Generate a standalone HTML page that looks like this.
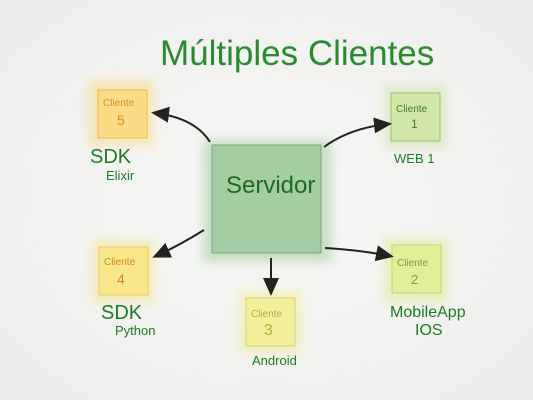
<!DOCTYPE html>
<html><head><meta charset="utf-8"><style>
html,body{margin:0;padding:0;}
body{width:533px;height:400px;background:radial-gradient(ellipse at center,#f7f7f5 0%,#ededeb 100%);position:relative;overflow:hidden;font-family:"Liberation Sans",sans-serif;}
.t{position:absolute;color:#2a7a2a;white-space:nowrap;}
</style></head><body>
<svg width="533" height="400" style="position:absolute;left:0;top:0">
<defs>
<filter id="b" x="-30%" y="-30%" width="160%" height="160%"><feGaussianBlur stdDeviation="5"/></filter>
<marker id="a" markerWidth="10" markerHeight="10" refX="7" refY="5" orient="auto"><path d="M0,1 L9,5 L0,9 Z" fill="#222"/></marker>
</defs>
<rect x="203" y="140" width="128" height="122" fill="#a8cfa4" opacity="0.6" filter="url(#b)"/>
<rect x="88" y="80" width="66" height="66" fill="#f8dc88" opacity="0.55" filter="url(#b)"/>
<rect x="384" y="86" width="62" height="62" fill="#d0e4a8" opacity="0.55" filter="url(#b)"/>
<rect x="92" y="240" width="62" height="62" fill="#f6e68a" opacity="0.55" filter="url(#b)"/>
<rect x="239" y="291" width="62" height="62" fill="#f2ee9a" opacity="0.55" filter="url(#b)"/>
<rect x="384" y="238" width="64" height="64" fill="#e0ec92" opacity="0.55" filter="url(#b)"/>
<rect x="212" y="145" width="109" height="108" fill="#a6cca3" stroke="#7aa87a" stroke-width="1"/>
<rect x="98" y="90" width="49" height="48" fill="#fadb86" stroke="#e8bc50"/>
<rect x="391" y="93" width="49" height="48" fill="#d2e8a8" stroke="#98c070"/>
<rect x="99" y="247" width="49" height="48" fill="#f8e68a" stroke="#e6cc60"/>
<rect x="246" y="298" width="49" height="48" fill="#f4ef9c" stroke="#d8d070"/>
<rect x="392" y="245" width="49" height="48" fill="#e2ee98" stroke="#c0d470"/>
<g fill="none" stroke="#222" stroke-width="2" marker-end="url(#a)">
<path d="M210,142 Q195,118 155,113"/>
<path d="M324,147 Q350,128 388,124"/>
<path d="M204,230 Q180,245 156,256"/>
<path d="M271,258 L271,292"/>
<path d="M325,248 Q360,250 390,256"/>
</g>
</svg>
<div class="t" style="left:160px;top:34px;font-size:35px;color:#2a8a30;font-weight:300">Múltiples Clientes</div>
<div class="t" style="left:226px;top:172px;font-size:24px;color:#1e6a24">Servidor</div>
<div class="t" style="left:103px;top:98px;font-size:10px;color:#d89020">Cliente</div>
<div class="t" style="left:117px;top:112px;font-size:14px;color:#d89020">5</div>
<div class="t" style="left:396px;top:104px;font-size:10px;color:#3a7a2a">Cliente</div>
<div class="t" style="left:411px;top:117px;font-size:12px;color:#3a7a2a">1</div>
<div class="t" style="left:104px;top:257px;font-size:10px;color:#c88a20">Cliente</div>
<div class="t" style="left:117px;top:271px;font-size:14px;color:#c88a20">4</div>
<div class="t" style="left:251px;top:309px;font-size:10px;color:#b0b040">Cliente</div>
<div class="t" style="left:264px;top:322px;font-size:16px;color:#b0b040">3</div>
<div class="t" style="left:397px;top:258px;font-size:10px;color:#7aa040">Cliente</div>
<div class="t" style="left:411px;top:272px;font-size:13px;color:#7aa040">2</div>
<div class="t" style="left:90px;top:146px;font-size:20px;color:#1e7a24">SDK</div>
<div class="t" style="left:106px;top:168px;font-size:13px;color:#1e7a24">Elixir</div>
<div class="t" style="left:394px;top:151px;font-size:13px;color:#1e7a24">WEB 1</div>
<div class="t" style="left:101px;top:302px;font-size:20px;color:#1e7a24">SDK</div>
<div class="t" style="left:115px;top:323px;font-size:13px;color:#1e7a24">Python</div>
<div class="t" style="left:252px;top:353px;font-size:13px;color:#1e7a24">Android</div>
<div class="t" style="left:390px;top:304px;font-size:16px;color:#1e7a24">MobileApp</div>
<div class="t" style="left:415px;top:322px;font-size:16px;color:#1e7a24">IOS</div>
</body></html>
